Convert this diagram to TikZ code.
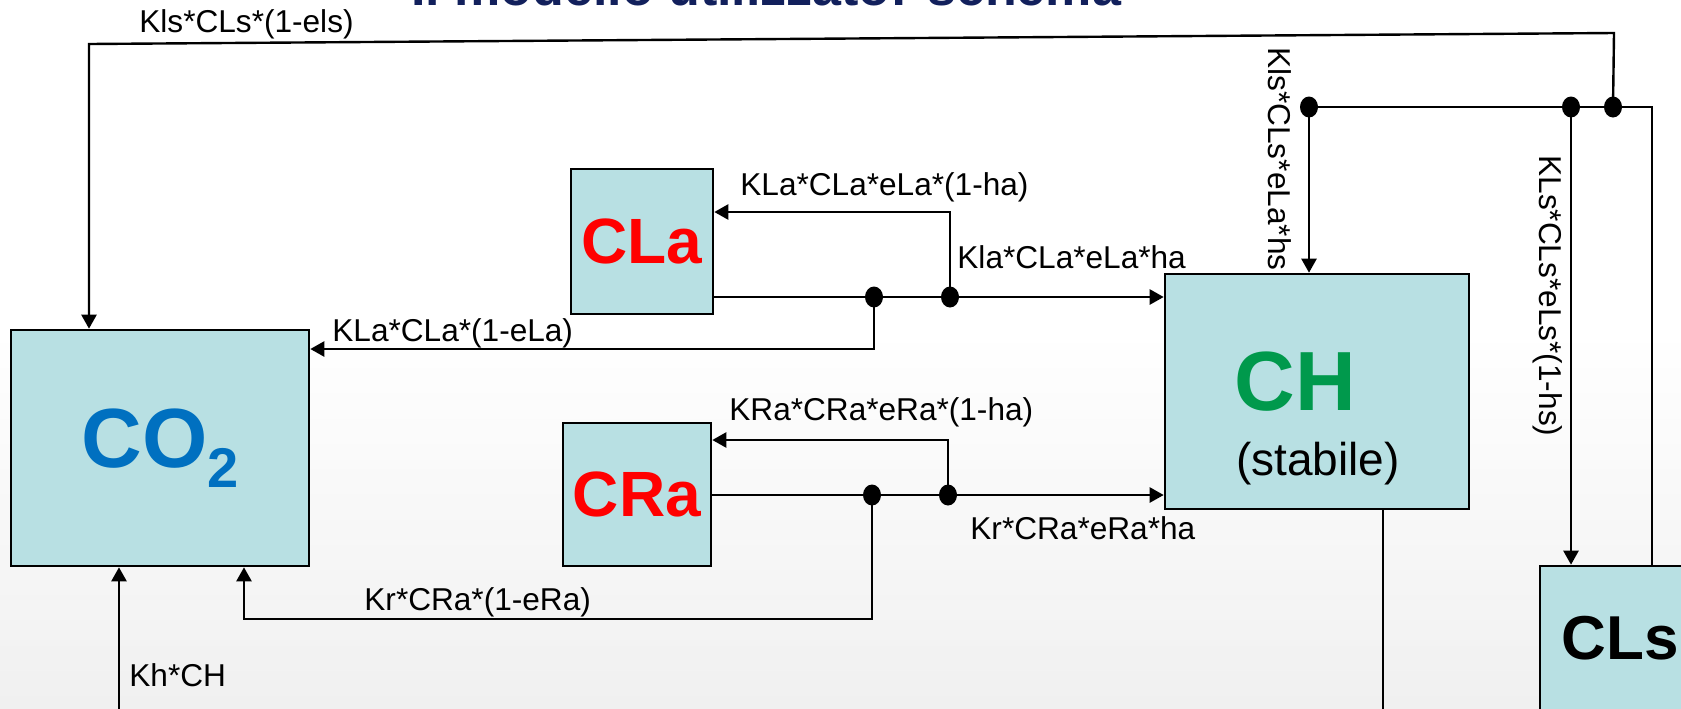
\documentclass[tikz,border=0pt]{standalone}
\usepackage{fontspec}
\setmainfont{Liberation Sans}
\usetikzlibrary{arrows.meta,shapes.geometric,calc}
\definecolor{boxfill}{RGB}{184,224,227}
\definecolor{co2blue}{RGB}{0,112,192}
\definecolor{chgreen}{RGB}{0,153,76}
\definecolor{titleblue}{RGB}{18,32,92}
\definecolor{bggray}{RGB}{240,240,240}
\begin{document}
\begin{tikzpicture}[x=0.5pt,y=-0.5pt,
  box/.style={draw=black,line width=1.3pt,fill=boxfill,inner sep=0pt,font=\bfseries},
  flow/.style={line width=1.2pt,-{Triangle[length=7pt,width=7.5pt]}},
  wire/.style={line width=1.1pt},
  dot/.style={ellipse,fill=black,inner sep=0pt,minimum width=9pt,minimum height=10.5pt},
  lab/.style={font=\fontsize{15.8}{18}\selectfont,inner sep=0pt},
]
\useasboundingbox (0,0) rectangle (1681,708);
\clip (0,0) rectangle (1681,708);
\fill[white] (0,0) rectangle (1681,330);
\shade[top color=white,bottom color=bggray] (0,330) rectangle (1681,708);

% title (cut off at top, as in the reference)
\node[anchor=base,inner sep=0pt,font=\bfseries\fontsize{26}{26}\selectfont,text=titleblue] (title) at (766,5) {Il modello utilizzato: schema};

% boxes
\node[box,minimum width=149pt,minimum height=118pt] (co2) at (160,448)
  {\textcolor{co2blue}{\fontsize{42}{42}\selectfont CO\raisebox{-10pt}{\fontsize{28}{28}\selectfont 2}}};
\node[box,minimum width=71pt,minimum height=72.5pt,text=red] (cla) at (642,241.5) {\fontsize{32}{32}\selectfont CLa};
\node[box,minimum width=74pt,minimum height=71.5pt,text=red] (cra) at (637,494.5) {\fontsize{32}{32}\selectfont CRa};
\node[box,minimum width=152pt,minimum height=117.5pt] (ch) at (1317,391.5) {};
\node[anchor=base,inner sep=0pt,text=chgreen,font=\bfseries\fontsize{42}{42}\selectfont] (chlab) at (1295,410) {CH};
\node[anchor=base,inner sep=0pt,font=\fontsize{23}{26}\selectfont] (stab) at (1318,475) {(stabile)};
\node[box,minimum width=80pt,minimum height=72pt] (cls) at (1620,638) {\fontsize{31}{31}\selectfont CLs};

% junction dots
\node[dot] (a1) at (874,297) {};
\node[dot] (a2) at (950,297) {};
\node[dot] (b1) at (872,495) {};
\node[dot] (b2) at (948,495) {};
\node[dot] (d1) at (1309,107) {};
\node[dot] (d2) at (1571,107) {};
\node[dot] (d3) at (1613,107) {};

% helper coordinates
\coordinate (a2up) at (950,212);
\coordinate (a1dn) at (874,349);
\coordinate (b2up) at (948,440);
\coordinate (b1dn) at (872,619);
\coordinate (b1dl) at (244,619);
\coordinate (rc) at (1652,107);
\coordinate (tr) at (1614,33);
\coordinate (tl) at (89,44);
\coordinate (chb) at (1383,712);
\coordinate (khb) at (119,712);

% CLa flows
\draw[flow] (cla.east |- a1) -- (ch.west |- a1);
\draw[flow] (a2.center) -- (a2up) -- (cla.east |- a2up);
\draw[flow] (a1.center) -- (a1dn) -- (co2.east |- a1dn);
% CRa flows
\draw[flow] (cra.east |- b1) -- (ch.west |- b1);
\draw[flow] (b2.center) -- (b2up) -- (cra.east |- b2up);
\draw[flow] (b1.center) -- (b1dn) -- (b1dl) -- (b1dl |- co2.south);
% CLs flows
\draw[wire] (d1.center) -- (rc) -- (rc |- cls.north);
\draw[flow] (d1.center) -- (d1 |- ch.north);
\draw[flow] (d2.center) -- (d2 |- cls.north);
\draw[flow] (d3.center) -- (tr) -- (tl) -- (tl |- co2.north);
% CH decay
\draw[wire] (chb |- ch.south) -- (chb);
\draw[flow] (khb) -- (khb |- co2.south);

% labels
\node[lab,anchor=base west] (l1) at (139,32) {Kls*CLs*(1-els)};
\node[lab,anchor=base west] (l2) at (740,195) {KLa*CLa*eLa*(1-ha)};
\node[lab,anchor=base west] (l3) at (957,268) {Kla*CLa*eLa*ha};
\node[lab,anchor=base west] (l4) at (332,341) {KLa*CLa*(1-eLa)};
\node[lab,anchor=base west] (l5) at (729,420) {KRa*CRa*eRa*(1-ha)};
\node[lab,anchor=base west] (l6) at (970,539) {Kr*CRa*eRa*ha};
\node[lab,anchor=base west] (l7) at (364,610) {Kr*CRa*(1-eRa)};
\node[lab,anchor=base west] (l8) at (129,686) {Kh*CH};
\node[lab,anchor=base west,rotate=-90] (l9) at (1268,47) {Kls*CLs*eLa*hs};
\node[lab,anchor=base west,rotate=-90] (l10) at (1539,155) {KLs*CLs*eLs*(1-hs)};
\end{tikzpicture}
\end{document}
